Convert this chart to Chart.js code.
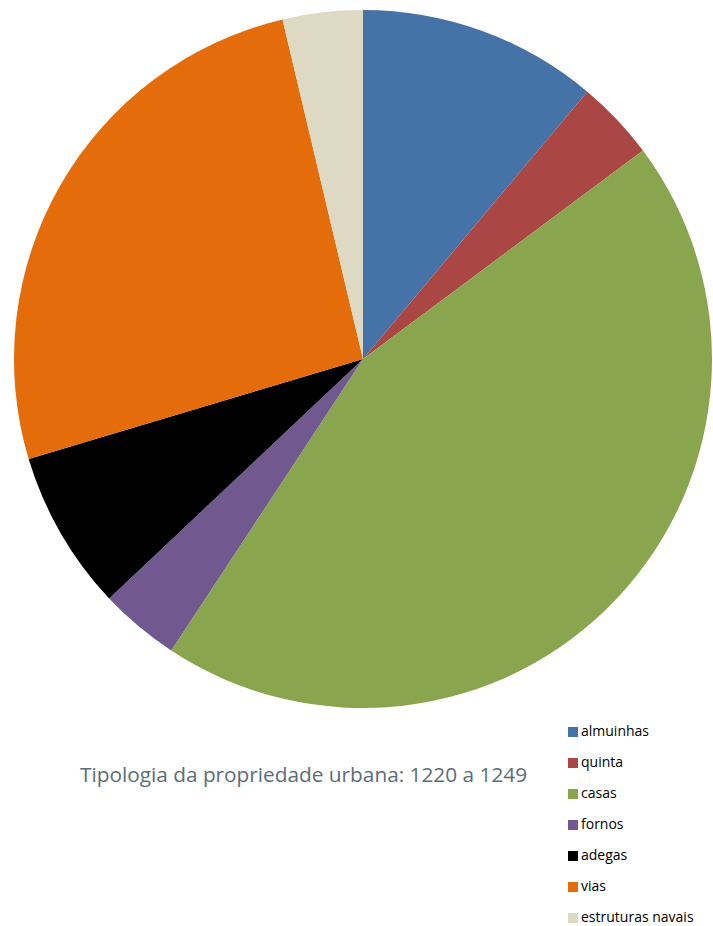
<!DOCTYPE html>
<html>
<head>
<meta charset="utf-8">
<script src="https://cdn.jsdelivr.net/npm/chart.js@4"></script>
<style>
    body { margin: 0; background: #fff; width: 713px; height: 926px; position: relative; overflow: hidden; }
    #pieBox { position: absolute; left: 14px; top: 10px; width: 698px; height: 698px; }
    #titulo { position: absolute; left: 80px; top: 760px; font-family: 'Open Sans', sans-serif; font-size: 20.8px; color: #5b6d79; white-space: nowrap; }
    #legenda { position: absolute; left: 568px; top: 721px; font-family: 'Open Sans', sans-serif; font-size: 14px; color: #000; }
    .leg-item { height: 31px; display: flex; align-items: flex-start; }
    .leg-box { width: 10px; height: 10px; margin-top: 6px; margin-right: 3px; }
</style>
</head>
<body>
<div id="pieBox"><canvas id="grafico_tipologia"></canvas></div>
<div id="titulo">Tipologia da propriedade urbana: 1220 a 1249</div>
<div id="legenda"></div>
<script>
const categorias = ['almuinhas', 'quinta', 'casas', 'fornos', 'adegas', 'vias', 'estruturas navais'];
const valores = [3, 1, 12, 1, 2, 7, 1];
const cores = ['#4572a7', '#aa4643', '#89a54e', '#71588f', '#000000', '#e46c0a', '#ddd9c3'];

function montarLegenda() {
    const box = document.getElementById('legenda');
    categorias.forEach((nome, i) => {
        box.innerHTML += `
        <div class="leg-item">
            <div class="leg-box" style="background:${cores[i]}"></div>
            <span>${nome}</span>
        </div>`;
    });
}

function inicializarGrafico() {
    const ctx = document.getElementById('grafico_tipologia').getContext('2d');
    new Chart(ctx, {
        type: 'pie',
        data: {
            labels: categorias,
            datasets: [{
                data: valores,
                backgroundColor: cores,
                borderWidth: 0,
            }]
        },
        options: {
            responsive: true,
            maintainAspectRatio: false,
            animation: false,
            plugins: { legend: { display: false }, tooltip: { enabled: false } },
        }
    });
}

montarLegenda();
inicializarGrafico();
</script>
</body>
</html>
